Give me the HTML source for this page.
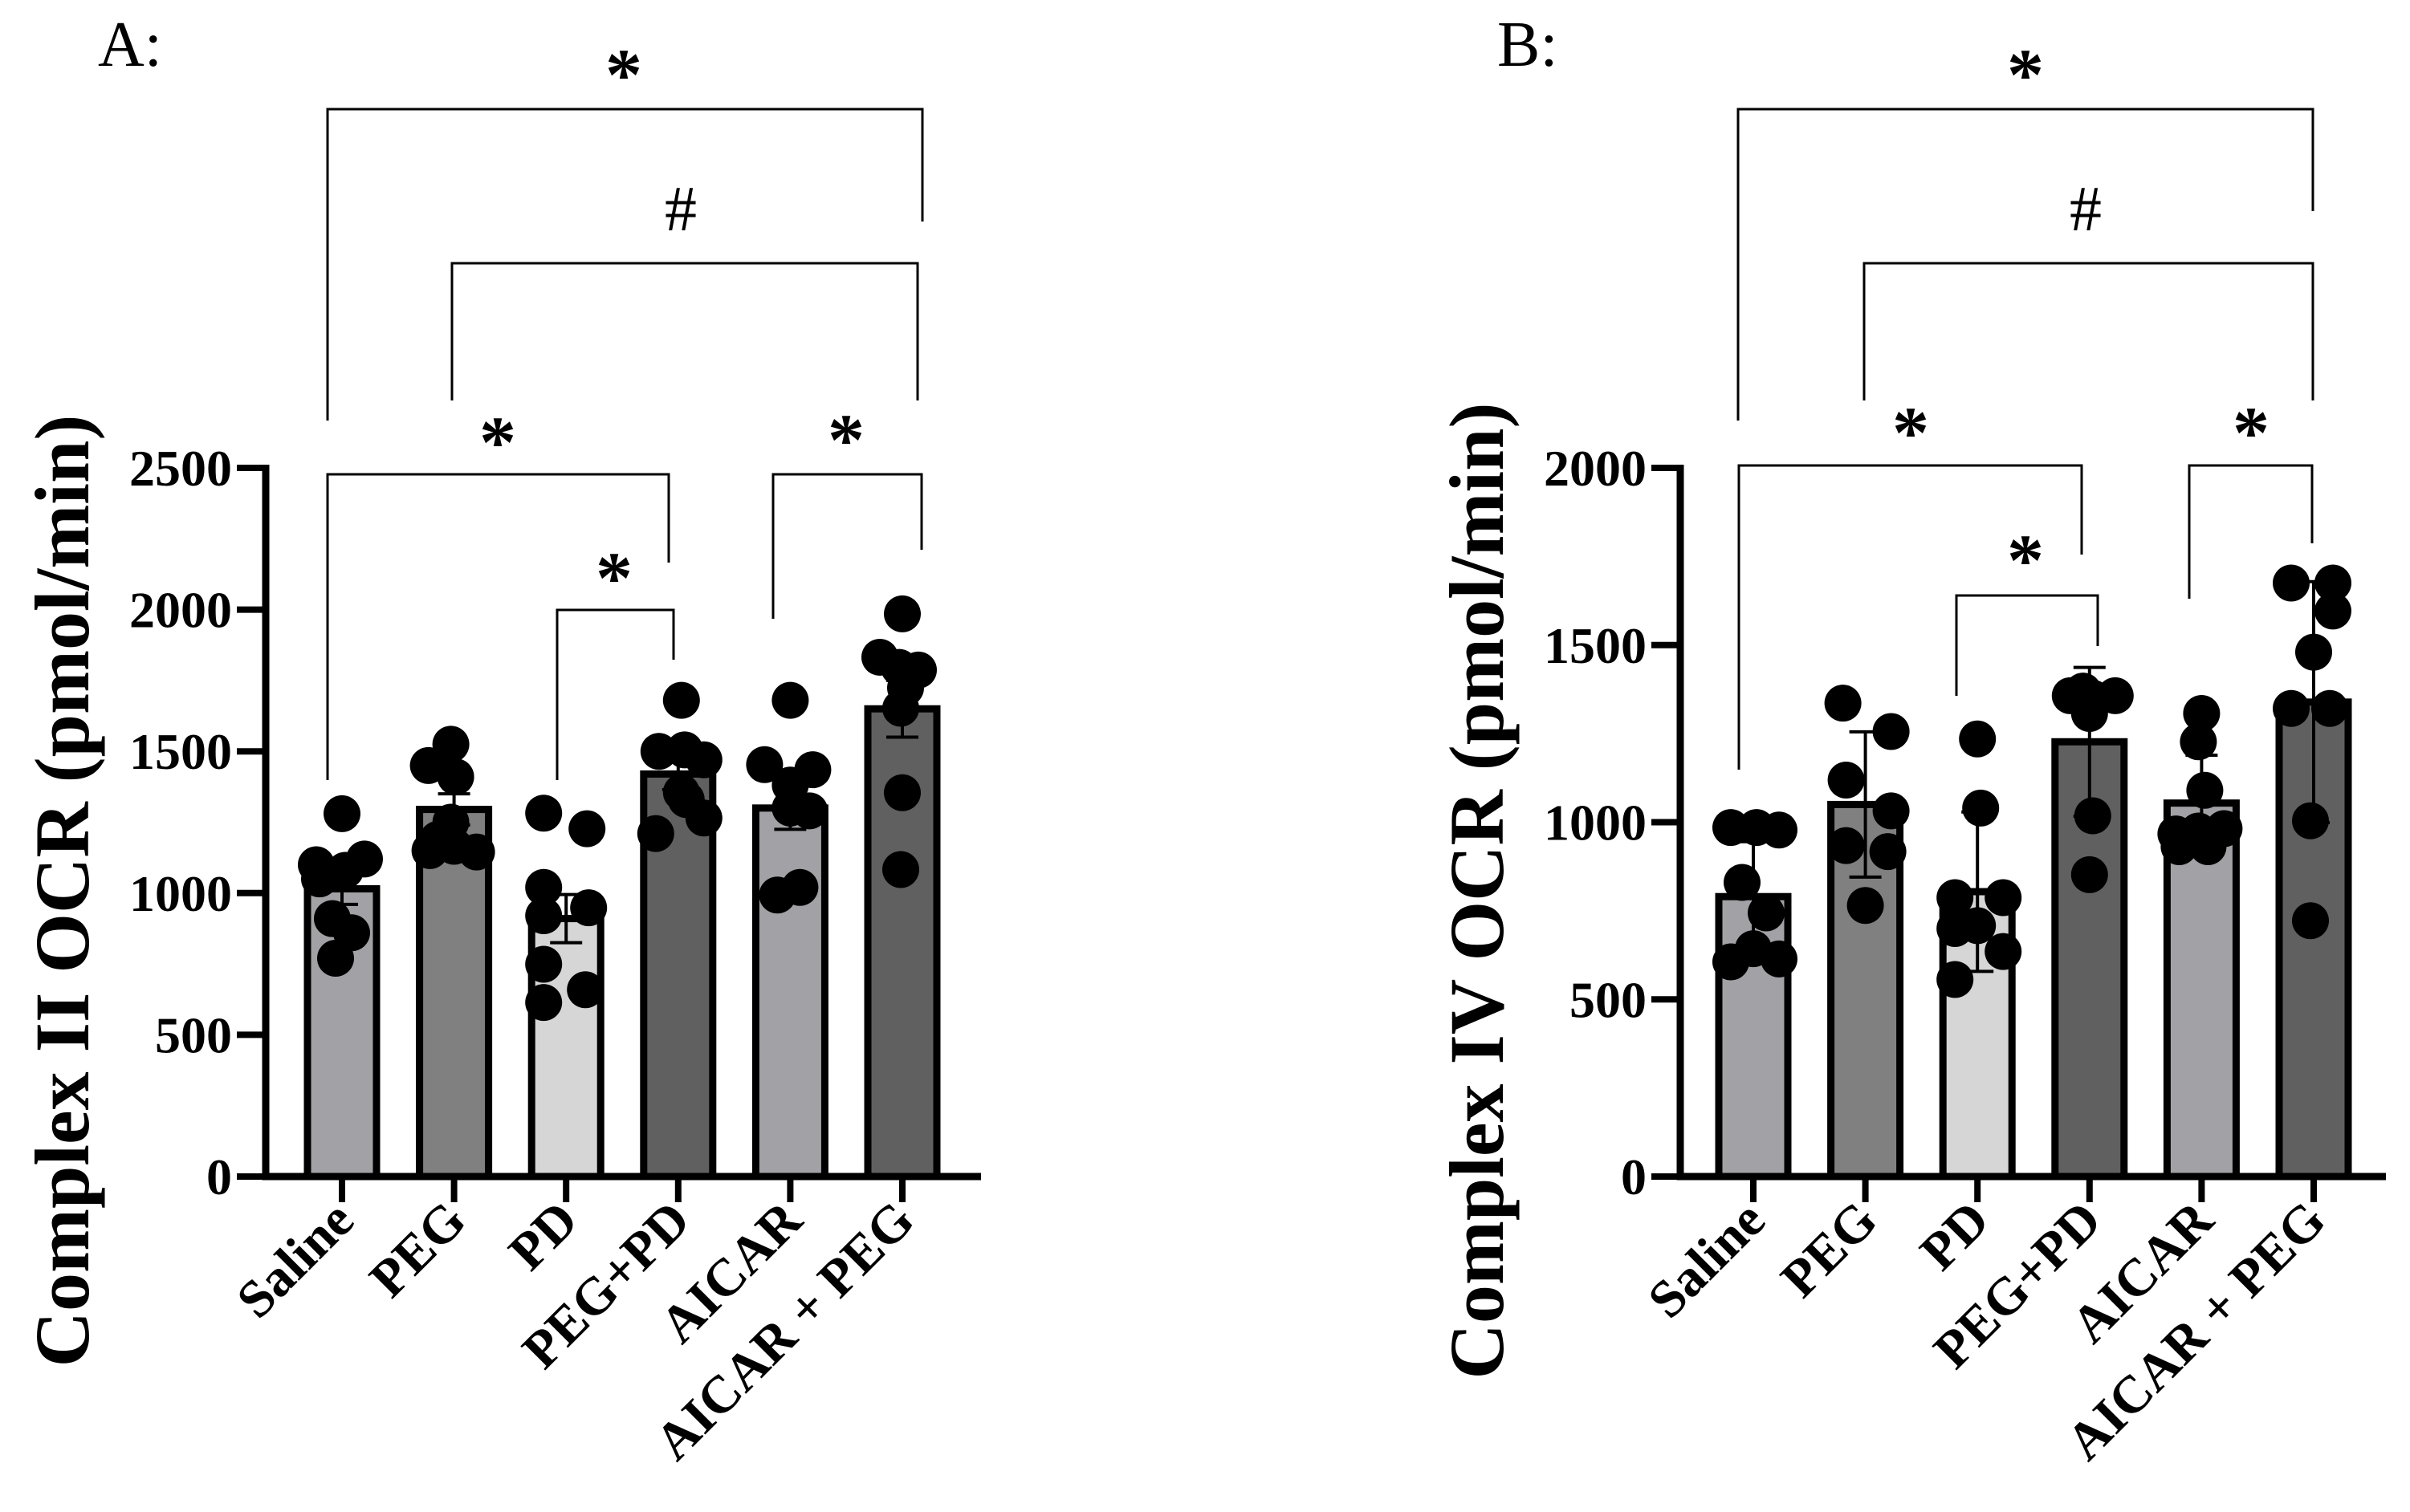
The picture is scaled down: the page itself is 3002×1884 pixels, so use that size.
<!DOCTYPE html>
<html><head><meta charset="utf-8"><style>
html,body{margin:0;padding:0;background:#fff;}
svg{display:block;font-family:"Liberation Serif",serif;}
</style></head><body>
<svg id="fig" width="3002" height="1884" viewBox="0 0 3002 1884" xmlns="http://www.w3.org/2000/svg">
<text x="122" y="82" font-size="80">A:</text>
<text x="1865" y="82" font-size="80">B:</text>
</svg>
<script>
const categories = ["Saline","PEG","PD","PEG+PD","AICAR","AICAR + PEG"];
const fills = ["#a2a2a6","#808080","#d6d6d6","#606060","#a2a2a6","#606060"];
const meansA = [1015,1295,910,1420,1300,1650];
const errA = [55,55,85,55,75,100];
const ticksA = [0,500,1000,1500,2000,2500];
const dotsA = [
 [1280,1100,1120,1080,910,860,770,1050],
 [1525,1450,1410,1250,1150,1145,1165,1190],
 [1282,1227,1020,948,920,749,659,614],
 [1680,1500,1505,1470,1355,1210,1265,1330],
 [1680,1453,1435,1381,1290,1300,993,1020],
 [1985,1832,1796,1787,1724,1652,1354,1083]];
const jitterA = [
 [0,-32,28,4,-12,12,-8,-28],[-4,-32,2,-4,-30,28,0,-20],[-28,26,-28,28,-28,-28,24,-28],
 [4,-24,8,32,4,-28,32,10],[0,-32,28,0,24,0,-16,12],[0,-28,-4,20,4,-2,0,-2]];
const meansB = [790,1050,804,1227,1054,1339];
const errB = [155,205,225,210,135,340];
const ticksB = [0,500,1000,1500,2000];
const dotsB = [
 [985,985,978,830,744,643,606,614],
 [1336,1256,1119,1032,934,917,765],
 [1235,1040,787,787,700,708,635,556],
 [1357,1357,1350,1307,1018,852,1370],
 [1307,1227,1090,967,982,931,931,975],
 [1675,1675,1596,1480,1321,1321,1004,722]];
const jitterB = [
 [-28,4,32,-14,16,0,-28,32],[-28,32,-24,32,-24,28,0],[0,4,-28,32,-28,0,32,-28],
 [-24,32,4,0,4,0,-8],[0,-4,4,-32,28,-28,8,-4],[-28,24,24,0,-28,20,-4,-4]];

const NS="http://www.w3.org/2000/svg";
const svg=document.getElementById('fig');
function mk(tag,attrs,parent){const e=document.createElementNS(NS,tag);for(const k in attrs)e.setAttribute(k,attrs[k]);(parent||svg).appendChild(e);return e;}

function panel(p){
  const g=mk('g',{});
  
  
  const y0=1466, yTop=583;
  const ymax=p.ticks[p.ticks.length-1];
  const Y=v=>y0-(v/ymax)*(y0-yTop);
  const X=i=>p.x0+i*p.step;
  const bw=86;
  p.means.forEach((m,i)=>{
    const r=mk('rect',{x:X(i)-bw/2,y:Y(m),width:bw,height:y0-Y(m),fill:fills[i],stroke:'#000','stroke-width':9},g);
    
    
  });
  p.dots.forEach((arr,i)=>{arr.forEach((v,j)=>{
    const c=mk('circle',{cx:X(i)+p.jit[i][j],cy:Y(v),r:23,fill:'#000'},g);
    
    
  });});
  p.means.forEach((m,i)=>{
    const lo=m-p.err[i], hi=m+p.err[i];
    const e=mk('path',{d:`M${X(i)},${Y(lo)}V${Y(hi)}M${X(i)-20},${Y(hi)}H${X(i)+20}M${X(i)-20},${Y(lo)}H${X(i)+20}`,stroke:'#000','stroke-width':4,fill:'none'},g);
    
    
  });
  const ax=mk('path',{d:`M${p.ax},${yTop-4}V${y0}H${p.axEnd}`,stroke:'#000','stroke-width':9,fill:'none'},g);
  
  
  p.ticks.forEach(t=>{
    const tk=mk('line',{x1:p.ax-36,x2:p.ax,y1:Y(t),y2:Y(t),stroke:'#000','stroke-width':8},g);
    
    
    const tl=mk('text',{x:p.ax-42,y:Y(t)+22,'text-anchor':'end','font-size':64,'font-weight':'bold'},g);
    tl.textContent=t;
    
    
  });
  categories.forEach((c,i)=>{
    const tk=mk('line',{x1:X(i),x2:X(i),y1:y0,y2:y0+32,stroke:'#000','stroke-width':8},g);
    
    
    const tx=X(i)+18, ty=y0+58;
    const tl=mk('text',{x:tx,y:ty,'text-anchor':'end','font-size':66,'font-weight':'bold',transform:`rotate(-45 ${tx} ${ty})`},g);
    tl.textContent=c;
    
    
  });
  const yl=mk('text',{x:0,y:0,'text-anchor':'middle','font-size':96,'font-weight':'bold',transform:`translate(${p.ylx} ${p.yly}) rotate(-90)`},g);
  yl.textContent=p.ylabel;
  
  
  p.brackets.forEach(b=>{
    const br=mk('path',{d:`M${b[0]},${b[3]}V${b[2]}H${b[1]}V${b[4]}`,stroke:'#000','stroke-width':3,fill:'none'},g);
    
    
    const s=mk('text',{x:b[5],y:b[6],'text-anchor':'middle','font-size':b[7]==='#'?80:92,'font-weight':b[7]==='#'?'normal':'bold'},g);
    s.textContent=b[7];
    
    
  });
}
panel({name:'panel-a',x0:426,step:139.6,ax:331,axEnd:1222,means:meansA,err:errA,ticks:ticksA,dots:dotsA,jit:jitterA,
  ylabel:'Complex II OCR (pmol/min)',ylx:110,yly:1110,
  brackets:[[408,1149,136,524,276,777,124,'*'],[563,1143,328,499,499,848,287,'#'],
   [408,833,591,972,701,620,582,'*'],[694,839,760,972,822,765,751,'*'],[963,1148,591,771,685,1054,579,'*']]});
panel({name:'panel-b',x0:2184,step:139.6,ax:2093,axEnd:2972,means:meansB,err:errB,ticks:ticksB,dots:dotsB,jit:jitterB,
  ylabel:'Complex IV OCR (pmol/min)',ylx:1872,yly:1110,
  brackets:[[2165,2881,136,524,263,2523,124,'*'],[2322,2881,328,499,499,2598,287,'#'],
   [2166,2593,580,959,691,2380,570,'*'],[2437,2613,742,867,805,2523,729,'*'],[2727,2880,580,746,677,2804,570,'*']]});
</script>
</body></html>
